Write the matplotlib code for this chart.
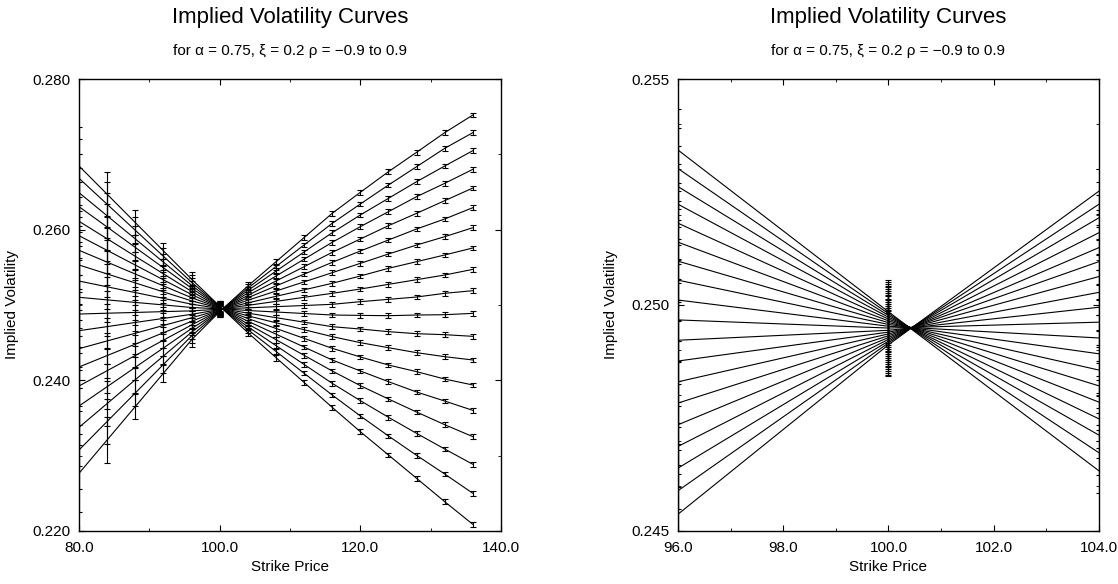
#!/usr/bin/env python3
"""
Implied volatility curves for rho = -0.9 .. 0.9, full strike range and a zoom around the money.
"""

import numpy as np
import matplotlib
matplotlib.use("Agg")
import matplotlib.pyplot as plt
from matplotlib.ticker import MultipleLocator, FormatStrFormatter

plt.rcParams.update({
    "font.family": ["Liberation Sans", "DejaVu Sans"],
    "font.size": 11,
    "axes.linewidth": 1.0,
    "xtick.direction": "in",
    "ytick.direction": "in",
    "xtick.top": True,
    "ytick.right": True,
    "xtick.major.size": 4,
    "ytick.major.size": 4,
    "xtick.minor.size": 2.5,
    "ytick.minor.size": 2.5,
    "xtick.labelsize": 11,
    "ytick.labelsize": 11,
})

RHO = [-0.9, -0.8, -0.7, -0.6, -0.5, -0.4, -0.3, -0.2, -0.1, 0.0,
       0.1, 0.2, 0.3, 0.4, 0.5, 0.6, 0.7, 0.8, 0.9]
STRIKES = [80, 84, 88, 92, 96, 100, 104, 108, 112, 116, 120, 124, 128, 132, 136]

# implied vol at each strike, one value per rho (rho = -0.9 first)
IV_80 = [0.26845, 0.26682, 0.26491, 0.26305, 0.26111, 0.25920, 0.25726, 0.25531, 0.25318, 0.25102,
         0.24880, 0.24659, 0.24420, 0.24177, 0.23925, 0.23659, 0.23376, 0.23075, 0.22766]
IV_84 = [0.26470, 0.26337, 0.26184, 0.26035, 0.25879, 0.25725, 0.25569, 0.25412, 0.25241, 0.25068,
         0.24891, 0.24713, 0.24523, 0.24329, 0.24128, 0.23916, 0.23692, 0.23454, 0.23209]
IV_88 = [0.26094, 0.25992, 0.25877, 0.25764, 0.25646, 0.25530, 0.25411, 0.25293, 0.25165, 0.25034,
         0.24901, 0.24768, 0.24625, 0.24480, 0.24330, 0.24173, 0.24008, 0.23832, 0.23652]
IV_92 = [0.25719, 0.25647, 0.25569, 0.25494, 0.25414, 0.25334, 0.25254, 0.25174, 0.25088, 0.25001,
         0.24912, 0.24822, 0.24728, 0.24632, 0.24533, 0.24430, 0.24323, 0.24211, 0.24094]
IV_96 = [0.25343, 0.25302, 0.25262, 0.25223, 0.25181, 0.25139, 0.25097, 0.25055, 0.25011, 0.24967,
         0.24922, 0.24876, 0.24830, 0.24783, 0.24735, 0.24687, 0.24639, 0.24589, 0.24537]
IV_100 = [0.24985, 0.24981, 0.24977, 0.24973, 0.24969, 0.24965, 0.24961, 0.24957, 0.24953, 0.24949,
          0.24944, 0.24940, 0.24936, 0.24932, 0.24928, 0.24924, 0.24920, 0.24916, 0.24912]
IV_104 = [0.24633, 0.24673, 0.24712, 0.24748, 0.24785, 0.24821, 0.24856, 0.24892, 0.24927, 0.24962,
          0.24995, 0.25028, 0.25063, 0.25096, 0.25127, 0.25160, 0.25193, 0.25223, 0.25252]
IV_108 = [0.24302, 0.24384, 0.24461, 0.24540, 0.24613, 0.24689, 0.24764, 0.24832, 0.24907, 0.24978,
          0.25048, 0.25115, 0.25185, 0.25253, 0.25318, 0.25384, 0.25449, 0.25510, 0.25574]
IV_112 = [0.23972, 0.24094, 0.24211, 0.24332, 0.24442, 0.24557, 0.24672, 0.24772, 0.24887, 0.24993,
          0.25102, 0.25201, 0.25307, 0.25409, 0.25508, 0.25608, 0.25704, 0.25797, 0.25895]
IV_116 = [0.23641, 0.23805, 0.23960, 0.24124, 0.24270, 0.24425, 0.24580, 0.24712, 0.24867, 0.25009,
          0.25155, 0.25288, 0.25429, 0.25566, 0.25699, 0.25832, 0.25960, 0.26084, 0.26217]
IV_120 = [0.23318, 0.23527, 0.23730, 0.23929, 0.24124, 0.24310, 0.24500, 0.24681, 0.24862, 0.25044,
          0.25212, 0.25385, 0.25553, 0.25717, 0.25876, 0.26040, 0.26195, 0.26341, 0.26496]
IV_124 = [0.23009, 0.23261, 0.23509, 0.23752, 0.23982, 0.24203, 0.24433, 0.24646, 0.24858, 0.25075,
          0.25274, 0.25487, 0.25677, 0.25863, 0.26053, 0.26239, 0.26416, 0.26593, 0.26770]
IV_128 = [0.22699, 0.23004, 0.23296, 0.23579, 0.23845, 0.24115, 0.24367, 0.24619, 0.24867, 0.25106,
          0.25336, 0.25575, 0.25796, 0.26009, 0.26217, 0.26438, 0.26637, 0.26836, 0.27027]
IV_132 = [0.22389, 0.22756, 0.23088, 0.23411, 0.23725, 0.24017, 0.24314, 0.24606, 0.24871, 0.25155,
          0.25398, 0.25664, 0.25907, 0.26142, 0.26385, 0.26615, 0.26845, 0.27080, 0.27288]
IV_136 = [0.22088, 0.22500, 0.22885, 0.23252, 0.23601, 0.23938, 0.24270, 0.24584, 0.24889, 0.25190,
          0.25473, 0.25757, 0.26026, 0.26292, 0.26553, 0.26801, 0.27049, 0.27288, 0.27522]

# monte carlo error half-width at each strike
IV_ERR = [0.0052, 0.0030, 0.0017, 0.0011, 0.0009, 0.0007, 0.0005, 0.0004,
          0.0003, 0.0003, 0.0003, 0.0003, 0.0003, 0.0003, 0.0003]

TITLE = "Implied Volatility Curves"
SUBTITLE = "for \u03b1 = 0.75, \u03be = 0.2 \u03c1 = \u22120.9 to 0.9"


def draw_panel(ax, iv, xlim, ylim, xmaj, xmin, ymaj, ymin, xfmt, yfmt):
    for i in range(len(RHO)):
        ax.errorbar(STRIKES, iv[:, i], yerr=IV_ERR, color="black", lw=0.8,
                    elinewidth=0.8, capsize=2, capthick=0.8)
    ax.set_xlim(*xlim)
    ax.set_ylim(*ylim)
    ax.xaxis.set_major_locator(MultipleLocator(xmaj))
    ax.xaxis.set_minor_locator(MultipleLocator(xmin))
    ax.yaxis.set_major_locator(MultipleLocator(ymaj))
    ax.yaxis.set_minor_locator(MultipleLocator(ymin))
    ax.xaxis.set_major_formatter(FormatStrFormatter(xfmt))
    ax.yaxis.set_major_formatter(FormatStrFormatter(yfmt))
    ax.tick_params(which="both", top=True, right=True, direction="in")
    ax.tick_params(axis="x", pad=7)
    ax.tick_params(axis="y", pad=6)
    ax.set_xlabel("Strike Price", labelpad=4)
    ax.set_ylabel("Implied Volatility", labelpad=10)
    ax.text(0.5, 1.137, TITLE, transform=ax.transAxes, ha="center", va="center", fontsize=16)
    ax.text(0.5, 1.062, SUBTITLE, transform=ax.transAxes, ha="center", va="center", fontsize=11)


def main():
    iv = np.array([IV_80, IV_84, IV_88, IV_92, IV_96, IV_100, IV_104, IV_108,
                   IV_112, IV_116, IV_120, IV_124, IV_128, IV_132, IV_136])

    fig = plt.figure(figsize=(11.18, 5.84), dpi=100)
    ax1 = fig.add_axes([0.0707, 0.0908, 0.3774, 0.7739])
    ax2 = fig.add_axes([0.6064, 0.0908, 0.3766, 0.7739])

    # full strike range
    draw_panel(ax1, iv, (80, 140), (0.220, 0.280), 20, 10, 0.02, 0.01, "%.1f", "%.3f")
    # zoom around the money
    draw_panel(ax2, iv, (96, 104), (0.245, 0.255), 2, 1, 0.005, 0.001, "%.1f", "%.3f")

    fig.savefig("out.png", dpi=100)
    plt.close(fig)


if __name__ == "__main__":
    main()
